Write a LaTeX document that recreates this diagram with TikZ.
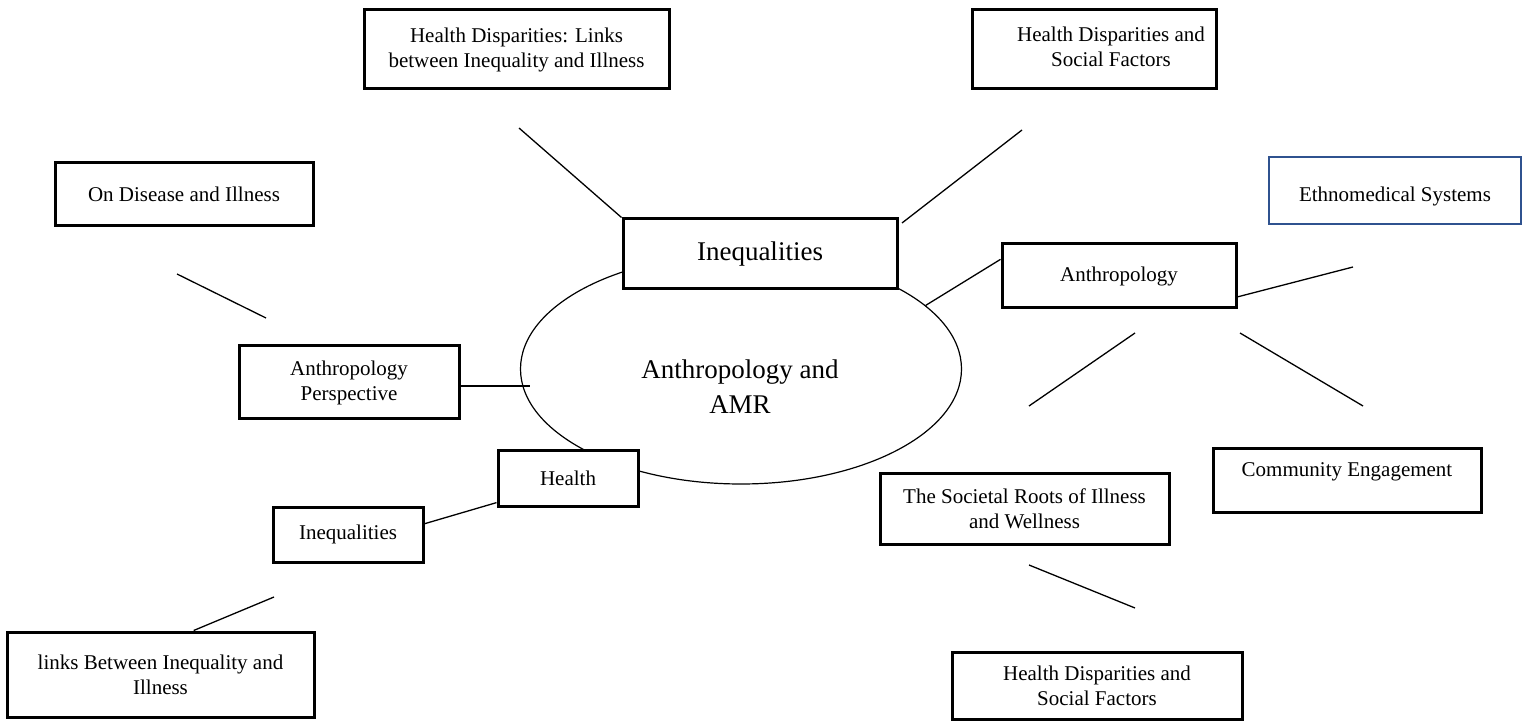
\documentclass[tikz,border=0pt]{standalone}
\usepackage{fontspec}
\setmainfont{Liberation Serif}
\usetikzlibrary{shapes.geometric}
\definecolor{wordblue}{HTML}{2F528F}
\begin{document}
\begin{tikzpicture}[x=0.5pt, y=-0.5pt]
\fontsize{10.5}{12.5}\selectfont

\tikzstyle{topic} = [draw, rectangle, line width=1.5pt, fill=white, inner sep=0pt, align=center]
\tikzstyle{hub}   = [draw, ellipse, line width=0.6pt, inner sep=0pt, minimum width=220.5pt, minimum height=115pt]
\tikzstyle{big}   = [font=\fontsize{13.5}{17.5}\selectfont, align=center]
\tikzstyle{link}  = [line width=0.65pt]

\useasboundingbox (0,0) rectangle (1536,721);

\node [hub] (Core) at (741,369) {};
\node [big] (CoreLbl) at (740,387) {Anthropology and\\AMR};

\node [topic, minimum width=152.5pt, minimum height=39.5pt] (HDLinks) at (516.5,49.5) {Health Disparities: Links\\between Inequality and Illness};
\node [topic, minimum width=122pt, minimum height=39.5pt, align=none] (HDSocial) at (1094,49.5) {\hspace*{17pt}\begin{tabular}{@{}c@{}}Health Disparities and\\Social Factors\end{tabular}};
\node [topic, minimum width=129pt, minimum height=31.5pt] (OnDis) at (184,194.5) {On Disease and Illness};
\node [topic, minimum width=126pt, minimum height=33.5pt, draw=wordblue, line width=1pt] (Ethno) at (1395,190.5) {\raisebox{-3pt}[\height][\depth]{Ethnomedical Systems}};
\node [topic, big, minimum width=137pt, minimum height=35pt] (IneqTop) at (760,254) {Inequalities};
\node [topic, minimum width=117pt, minimum height=32pt] (Anthro) at (1119,276) {Anthropology};
\node [topic, minimum width=110pt, minimum height=36.5pt] (Persp) at (349,382.5) {Anthropology\\Perspective};
\node [topic, minimum width=70pt, minimum height=28pt] (Health) at (568,478) {Health};
\node [topic, minimum width=75pt, minimum height=27.5pt] (IneqLow) at (348,534.5) {Inequalities};
\node [topic, minimum width=153.5pt, minimum height=42.5pt] (Links) at (160.5,674.5) {links Between Inequality and\\Illness};
\node [topic, minimum width=144.5pt, minimum height=35.5pt] (Roots) at (1024.5,508.5) {The Societal Roots of Illness\\and Wellness};
\node [topic, minimum width=134pt, minimum height=32pt] (Community) at (1347,480) {\raisebox{4pt}[\height][\depth]{Community Engagement}};
\node [topic, minimum width=145pt, minimum height=33.5pt] (HDSocialLow) at (1097,685.5) {Health Disparities and\\Social Factors};

\coordinate (HDLinksTail) at (519,128);
\coordinate (HDSocialTail) at (1022,130);
\coordinate (IneqTopTail) at (902,223);
\coordinate (OnDisTail) at (177,274);
\coordinate (PerspTail) at (266,318);
\coordinate (CoreWest) at (530,386);
\coordinate (IneqLowTail) at (274,597);
\coordinate (EthnoTail) at (1353,267);
\coordinate (RootsHead) at (1135,333);
\coordinate (RootsTail) at (1029,406);
\coordinate (CommunityHead) at (1240,333);
\coordinate (CommunityTail) at (1363,406);
\coordinate (LowHead) at (1029,565);
\coordinate (LowTail) at (1135,608);

\draw [link] (HDLinksTail) -- (IneqTop.north west);
\draw [link] (HDSocialTail) -- (IneqTopTail);
\draw [link] (OnDisTail) -- (PerspTail);
\draw [link] (Persp.east |- CoreWest) -- (CoreWest);
\draw [link] (IneqLow.8) -- (Health.199);
\draw [link] (IneqLowTail) -- (Links.53.5);
\draw [link] (Core.19) -- (Anthro.172);
\draw [link] (Anthro.-10.6) -- (EthnoTail);
\draw [link] (RootsHead) -- (RootsTail);
\draw [link] (CommunityHead) -- (CommunityTail);
\draw [link] (LowHead) -- (LowTail);
\end{tikzpicture}
\end{document}
